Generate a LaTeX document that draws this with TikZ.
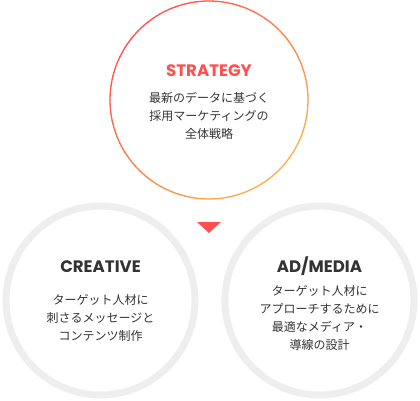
\documentclass[tikz,border=0pt]{standalone}
\usepackage{fontspec}
\newfontfamily\headfont{Poppins}
\newfontfamily\jpfont{Noto Sans CJK JP}
\definecolor{rd}{HTML}{FF4F4F}
\definecolor{orng}{HTML}{FFB04A}
\definecolor{ring}{HTML}{EEEEEE}
\definecolor{txt}{HTML}{333333}
\tikzset{
head/.style={font=\headfont\bfseries\fontsize{16.6}{18}\selectfont, text=txt, inner sep=0pt},
body/.style={font=\jpfont\fontsize{12}{18}\selectfont, text=txt, align=center, inner sep=0pt},
}
\begin{document}
\begin{tikzpicture}[x=1pt,y=-1pt]
\useasboundingbox (0,0) rectangle (420,401);
% gray rings
\draw[ring, line width=7pt] (100.5,300.5) circle (94.5);
\draw[ring, line width=7pt] (319.5,300.5) circle (94.5);
% top ring with red to orange
\foreach \a in {0,2,...,358} {
\pgfmathsetmacro{\p}{(cos(\a)+sin(\a))/sqrt(2)*50+50}
\draw[orng!\p!rd, line width=1.3pt] ([shift={(\a:99)}]209,100) arc[start angle=\a, delta angle=2.3, radius=99];}
\fill[rd] (197,222) -- (221,222) -- (209,233) -- cycle;
\node[head, text=rd] (strategy) at (209,71) {STRATEGY};
\node[body] (strategytxt) at (209,115.5) {最新のデータに基づく\\採用マーケティングの\\全体戦略};
\node[head] (creative) at (100.5,266.5) {CREATIVE};
\node[body] (creativetxt) at (100.5,318) {ターゲット人材に\\刺さるメッセージと\\コンテンツ制作};
\node[head] (admedia) at (319.5,266.5) {AD/MEDIA};
\node[body] (admediatxt) at (319.5,317.5) {ターゲット人材に\\アプローチするために\\最適なメディア・\\導線の設計};
\end{tikzpicture}
\end{document}
